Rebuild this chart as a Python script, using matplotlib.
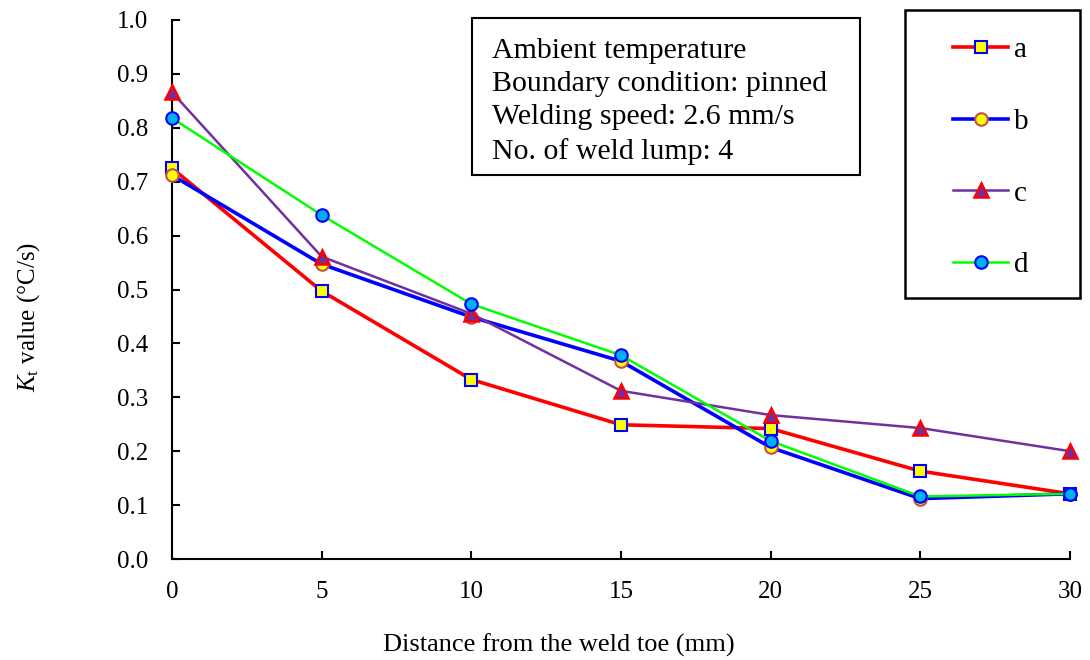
import matplotlib.pyplot as plt
from matplotlib.lines import Line2D
from matplotlib.patches import Rectangle

plt.rcParams['font.family'] = ['Liberation Serif', 'DejaVu Serif']
plt.rcParams['mathtext.fontset'] = 'custom'
plt.rcParams['mathtext.it'] = 'Liberation Serif:italic'
plt.rcParams['mathtext.rm'] = 'Liberation Serif'

# distance from weld toe (mm)
distance = [0, 5, 10, 15, 20, 25, 30]

# Kt values (degC/s)
kt_a = [0.725, 0.497, 0.333, 0.249, 0.242, 0.163, 0.121]
kt_b = [0.712, 0.547, 0.449, 0.367, 0.207, 0.112, 0.121]
kt_c = [0.866, 0.561, 0.455, 0.312, 0.267, 0.243, 0.200]
kt_d = [0.818, 0.638, 0.473, 0.378, 0.219, 0.116, 0.121]

series_labels = ['a', 'b', 'c', 'd']
info_lines = ['Ambient temperature',
              'Boundary condition: pinned',
              'Welding speed: 2.6 mm/s',
              'No. of weld lump: 4']

W, H = 1090, 660
fig = plt.figure(figsize=(W / 100, H / 100), dpi=100)
ax = fig.add_axes([172 / W, 1 - 559 / H, (1070 - 172) / W, (559 - 20) / H])

styles = [
    dict(color='#FF0000', lw=2.6, marker='s', mfc='#FFFF00', mec='#0000FF', ms=9, mew=1.5),
    dict(color='#0000FF', lw=2.6, marker='o', mfc='#FFFF00', mec='#C0504D', ms=9, mew=1.5),
    dict(color='#7030A0', lw=1.8, marker='^', mfc='#7030A0', mec='#FF0000', ms=10, mew=1.8),
    dict(color='#00FF00', lw=1.8, marker='o', mfc='#00B0F0', mec='#0000FF', ms=9, mew=1.5),
]

for vals, st in zip([kt_a, kt_b, kt_c, kt_d], styles):
    ax.plot(distance, vals, clip_on=False, zorder=3, **st)

ax.set_xlim(0, 30)
ax.set_ylim(0, 1.0)
ax.set_xticks(distance)
ax.set_yticks([i / 10 for i in range(11)])
ax.set_yticklabels([f'{i / 10:.1f}' for i in range(11)])
ax.spines['top'].set_visible(False)
ax.spines['right'].set_visible(False)
for s in ['left', 'bottom']:
    ax.spines[s].set_linewidth(1.5)
ax.tick_params(direction='in', length=6, width=1.5, labelsize=18)
ax.tick_params(axis='y', pad=17)
ax.tick_params(axis='x', pad=16)

ax.set_xlabel('Distance from the weld toe (mm)', fontsize=19, labelpad=22)
ax.xaxis.label.set_x((559 - 172) / 898)
ax.set_ylabel(r'$K_{\mathrm{t}}$ value (°C/s)', fontsize=18, labelpad=54)
ax.yaxis.label.set_y((559 - 317) / 539)

# info box
fig.patches.append(Rectangle((472 / W, 1 - 175 / H), (860 - 472) / W, (175 - 18) / H,
                             transform=fig.transFigure, fill=False, ec='black', lw=1.5))
fig.text(492 / W, 1 - 38 / H, '\n'.join(info_lines), fontsize=21.5,
         va='top', ha='left', linespacing=1.36)

# legend
fig.patches.append(Rectangle((905 / W, 1 - 298 / H), (1080 - 905) / W, (298 - 10) / H,
                             transform=fig.transFigure, fill=False, ec='black', lw=1.8))
handles = [Line2D([], [], **st) for st in styles]
fig.legend(handles, series_labels, loc='upper left',
           bbox_to_anchor=(953 / W, 1 - 37 / H), fontsize=21,
           frameon=False, handlelength=1.9, handletextpad=0.2,
           labelspacing=1.55, borderpad=0, borderaxespad=0)

fig.savefig('out.png', dpi=100)
